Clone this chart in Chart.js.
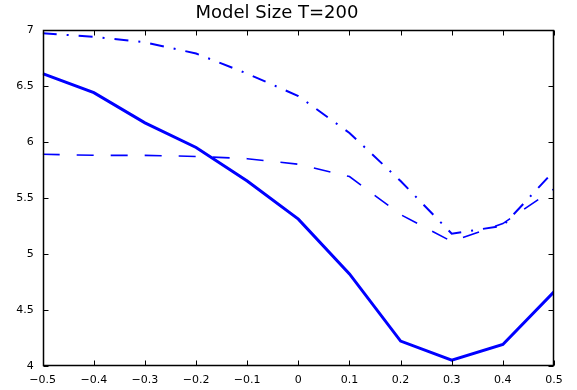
<!DOCTYPE html>
<html>
<head>
<meta charset="utf-8">
<script src="https://cdn.jsdelivr.net/npm/chart.js@4/dist/chart.umd.min.js"></script>
<style>
  html, body { margin: 0; padding: 0; background: #fff; }
  #wrap { width: 577px; height: 390px; position: relative; }
</style>
</head>
<body>
<div id="wrap"><canvas id="c"></canvas></div>
<script>
const titleText = 'Model Size T=200';
const xValues = [-0.5, -0.4, -0.3, -0.2, -0.1, 0, 0.1, 0.2, 0.3, 0.4, 0.5];
const solidSeries = [6.61, 6.44, 6.17, 5.95, 5.65, 5.31, 4.82, 4.22, 4.05, 4.19, 4.66];
const dashedSeries = [5.89, 5.88, 5.88, 5.87, 5.85, 5.80, 5.69, 5.35, 5.11, 5.27, 5.58];
const dashDotSeries = [6.97, 6.94, 6.89, 6.79, 6.61, 6.41, 6.08, 5.65, 5.18, 5.25, 5.74];
const xTickStep = 0.1;
const yTickStep = 0.5;
const xRange = [-0.5, 0.5];
const yRange = [4, 7];

const toPoints = ys => xValues.map((x, i) => ({ x: x, y: ys[i] }));
const fmt = v => {
  const n = Number(v.toFixed(1));
  return String(n).replace('-', '\u2212');
};
const FONT = 'DejaVu Sans';

const boxPlugin = {
  id: 'matlabBox',
  afterDraw(chart) {
    const { ctx, chartArea: a, scales: { x, y } } = chart;
    const L = Math.round(a.left) + 0.5, R = Math.round(a.right) - 0.5;
    const T = Math.round(a.top) + 0.5, B = Math.round(a.bottom) - 0.5;
    ctx.save();
    ctx.strokeStyle = '#000';
    ctx.lineWidth = 1;
    ctx.beginPath();
    const len = 5;
    x.ticks.forEach(t => {
      const px = Math.round(x.getPixelForValue(t.value)) + 0.5;
      ctx.moveTo(px, B); ctx.lineTo(px, B - len);
      ctx.moveTo(px, T); ctx.lineTo(px, T + len);
    });
    y.ticks.forEach(t => {
      const py = Math.round(y.getPixelForValue(t.value)) + 0.5;
      ctx.moveTo(L, py); ctx.lineTo(L + len, py);
      ctx.moveTo(R, py); ctx.lineTo(R - len, py);
    });
    ctx.stroke();
    ctx.lineWidth = 1.5;
    ctx.strokeRect(L, T, R - L, B - T);
    ctx.restore();
  }
};

new Chart(document.getElementById('c'), {
  type: 'line',
  data: {
    datasets: [
      { data: toPoints(solidSeries), borderColor: '#0000ff', borderWidth: 3, pointRadius: 0, tension: 0, fill: false },
      { data: toPoints(dashedSeries), borderColor: '#0000ff', borderWidth: 1.6, borderDash: [17, 17], pointRadius: 0, tension: 0, fill: false },
      { data: toPoints(dashDotSeries), borderColor: '#0000ff', borderWidth: 2, borderDash: [14, 10, 2, 10], pointRadius: 0, tension: 0, fill: false }
    ]
  },
  options: {
    responsive: true,
    maintainAspectRatio: false,
    animation: false,
    events: [],
    layout: { padding: { left: 0, right: 23, top: 0, bottom: 0 } },
    plugins: {
      legend: { display: false },
      tooltip: { enabled: false },
      title: {
        display: true,
        text: titleText,
        color: '#000',
        font: { family: FONT, size: 18, weight: 'normal', lineHeight: 1.2 },
        padding: { top: 3, bottom: 5.4 }
      }
    },
    scales: {
      x: {
        type: 'linear',
        min: xRange[0], max: xRange[1],
        grid: { display: false, drawTicks: false },
        border: { display: false },
        afterFit: s => { s.height = 24.3; },
        ticks: { stepSize: xTickStep, color: '#000', font: { family: FONT, size: 11 }, padding: 8, maxRotation: 0, callback: v => fmt(v) }
      },
      y: {
        type: 'linear',
        min: yRange[0], max: yRange[1],
        grid: { display: false, drawTicks: false },
        border: { display: false },
        afterFit: s => { s.width = 42.7; },
        ticks: { stepSize: yTickStep, color: '#000', font: { family: FONT, size: 11 }, padding: 9, callback: v => fmt(v) }
      }
    }
  },
  plugins: [boxPlugin]
});
</script>
</body>
</html>
